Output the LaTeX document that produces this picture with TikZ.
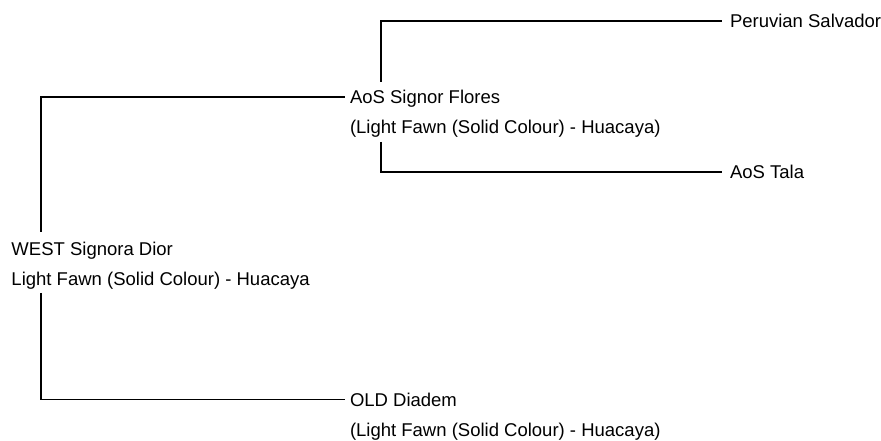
\documentclass[tikz,border=0pt]{standalone}
\usepackage{fontspec}
\setmainfont{Liberation Sans}
\begin{document}
\begin{tikzpicture}[x=1pt,y=1pt,
  every node/.style={inner sep=0pt,outer sep=0pt,font=\fontsize{18.5pt}{30pt}\selectfont,text=black},
  namebox/.style={anchor=west,text height=13.2pt,text depth=0pt},
  descbox/.style={anchor=base west,text height=13.2pt,text depth=3.9pt},
  link/.style={draw=black,line width=1.3pt}]
\useasboundingbox (0,0) rectangle (881,440);
\node[namebox] (root) at (11.5,191.5) {WEST Signora Dior};
\node[descbox] (rootd) at (11.5,155) {Light Fawn (Solid Colour) - Huacaya};
\node[namebox] (flores) at (350,343) {AoS Signor Flores};
\node[descbox] (floresd) at (350,306.4) {(Light Fawn (Solid Colour) - Huacaya)};
\node[namebox] (peru) at (730,419) {Peruvian Salvador};
\node[namebox] (tala) at (730,268) {AoS Tala};
\node[namebox] (old) at (350,40.5) {OLD Diadem};
\node[descbox] (oldd) at (350,4) {(Light Fawn (Solid Colour) - Huacaya)};
\draw[link] ([xshift=29.5pt,yshift=10pt]root.north west) |- ([xshift=-5pt]flores.west);
\draw[link] ([xshift=29.5pt,yshift=-4pt]rootd.south west) |- ([xshift=-5pt]old.west);
\draw[link] ([xshift=31pt,yshift=8.4pt]flores.north west) |- ([xshift=-8pt]peru.west);
\draw[link] ([xshift=31pt,yshift=-4.5pt]floresd.south west) |- ([xshift=-8pt]tala.west);
\end{tikzpicture}
\end{document}
